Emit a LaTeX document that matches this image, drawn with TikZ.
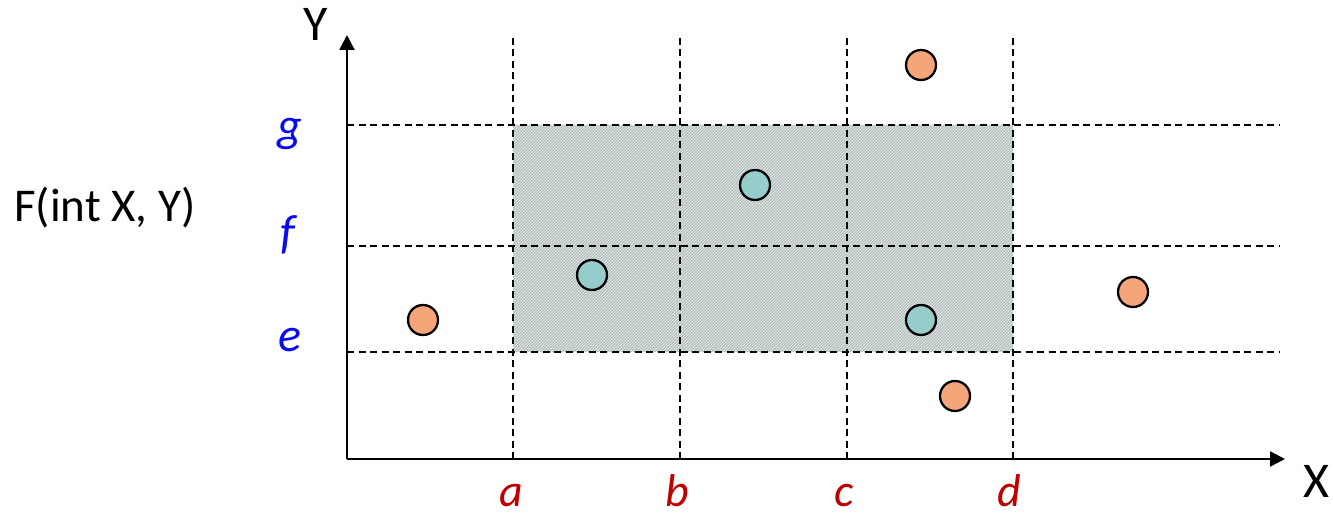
\documentclass[tikz,border=0pt]{standalone}
\usepackage{fontspec}
\setmainfont{Carlito}
\usetikzlibrary{arrows.meta,patterns}
\definecolor{dotorange}{RGB}{244,166,122}
\definecolor{dotteal}{RGB}{148,205,204}
\definecolor{boxgray}{RGB}{182,194,192}
\definecolor{lblblue}{RGB}{10,10,240}
\definecolor{lblred}{RGB}{192,0,0}
\tikzset{
  axis/.style={line width=2.4pt,-{Triangle[length=15pt,width=15pt]}},
  grid/.style={line width=1.4pt,dash pattern=on 7pt off 4.5pt},
  dot/.style={circle,draw=black,line width=2.3pt,minimum size=30pt,inner sep=0pt},
  odot/.style={dot,fill=dotorange},
  tdot/.style={dot,fill=dotteal},
  ylbl/.style={anchor=base,inner sep=0pt,text=lblblue,font=\fontsize{48}{52}\selectfont\itshape},
  xlbl/.style={anchor=base,inner sep=0pt,text=lblred,font=\fontsize{46}{50}\selectfont\itshape},
  axlbl/.style={anchor=base,inner sep=0pt,font=\fontsize{50}{54}\selectfont},
}
\begin{document}
\begin{tikzpicture}[x=1pt,y=-1pt]
\useasboundingbox (0,0) rectangle (1333,516);
% shaded region
\fill[boxgray] (513,125) rectangle (1013,352);
\fill[pattern=north east lines,pattern color=white!70!boxgray] (513,125) rectangle (1013,352);
% coordinates
\coordinate (O) at (347,459);
\coordinate (Ytop) at (347,35);
\coordinate (Xend) at (1285,459);
\foreach \n/\x in {a/513,b/680,c/847,d/1013}{
  \coordinate (v\n0) at (\x,459);
  \coordinate (v\n1) at (\x,35);
  \draw[grid] (v\n0) -- (v\n1);
}
\foreach \n/\y in {g/125,f/246,e/352}{
  \coordinate (h\n0) at (347,\y);
  \coordinate (h\n1) at (1280,\y);
  \draw[grid] (h\n0) -- (h\n1);
}
% axes
\draw[axis] (O) -- (Ytop);
\draw[axis] (O) -- (Xend);
% labels
\node[axlbl] (ylab) at (316,41) {Y};
\node[axlbl] (xlab) at (1316,497) {X};
\node[anchor=base west,inner sep=0pt,font=\fontsize{47}{52}\selectfont] (func) at (14,221) {F(int X, Y)};
\node[ylbl] (lg) at (290,142) {g};
\node[ylbl] (lf) at (288,248) {f};
\node[ylbl] (le) at (290,351) {e};
\node[xlbl] (la) at (511,506) {a};
\node[xlbl] (lb) at (677,506) {b};
\node[xlbl] (lc) at (844,506) {c};
\node[xlbl] (ld) at (1009,506) {d};
% points
\node[odot] (p1) at (921,65) {};
\node[odot] (p2) at (423,320) {};
\node[odot] (p3) at (1133,292) {};
\node[odot] (p4) at (955,396) {};
\node[tdot] (q1) at (755,185) {};
\node[tdot] (q2) at (592,275) {};
\node[tdot] (q3) at (921,320) {};
\end{tikzpicture}
\end{document}
